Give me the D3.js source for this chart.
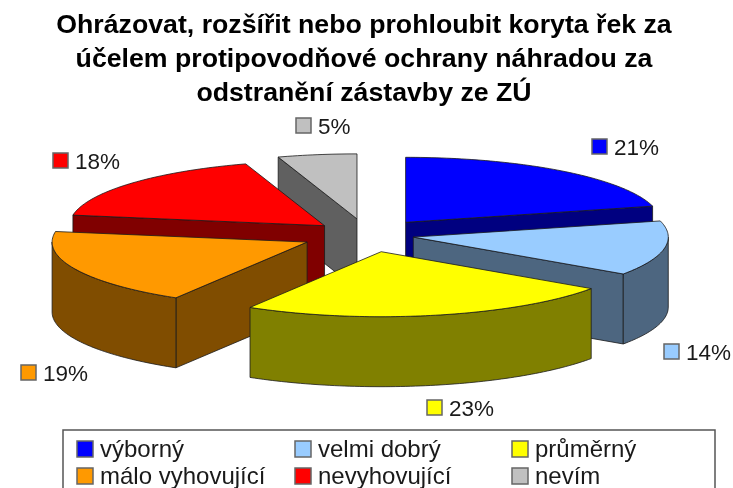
<!DOCTYPE html>
<html lang="cs">
<head>
<meta charset="UTF-8">
<title>Ohrázovat, rozšířit nebo prohloubit koryta řek</title>
<script src="https://cdnjs.cloudflare.com/ajax/libs/d3/7.8.5/d3.min.js"></script>
<style>
    html, body { margin: 0; padding: 0; background: #fff; }
    svg { display: block; font-family: "Liberation Sans", Arial, sans-serif; filter: blur(0.45px); }
    .title { font-size: 26.7px; font-weight: bold; fill: #000; text-anchor: middle; }
    .label { font-size: 22.5px; fill: #1a1a1a; }
    .legend-text { font-size: 24px; fill: #1a1a1a; }
    .swatch { stroke: #666; stroke-width: 1.5px; }
    .face { stroke: #1a1a1a; stroke-width: 0.8px; stroke-linejoin: round; }
</style>
</head>
<body>
<svg id="chart" width="733" height="488"></svg>
<script>
const categories = ["výborný", "velmi dobrý", "průměrný", "málo vyhovující", "nevyhovující", "nevím"];
// printed percentages
const percents = [21, 14, 23, 19, 18, 5];
// slice sizes as measured on the picture, they differ a bit from the printed labels
const shares = [21, 13.6, 24, 19, 17.4, 5];
const explosion = [63, 47, 67, 66, 56, 64];
const topColors = ["#0000ff", "#99ccff", "#ffff00", "#ff9900", "#ff0000", "#c0c0c0"];
const sideColors = ["#000080", "#4d6680", "#808000", "#804d00", "#800000", "#606060"];
const titleLines = [
    "Ohrázovat, rozšířit nebo prohloubit koryta řek za",
    "účelem protipovodňové ochrany náhradou za",
    "odstranění zástavby ze ZÚ"
];

const dims = {
    cx: 367, cy: 235, rx: 255, ry: 65, depth: 70,
    titleY: [33, 67, 101],
    // label swatch left / swatch bottom for each slice
    labels: [[592, 154], [664, 359], [427, 415], [21, 380], [53, 168], [296, 133]],
    labelSwatch: 15,
    legend: { x: 63, y: 430, width: 652, height: 70, cols: [77, 295, 512], rows: [457, 484], swatch: 16 }
};

const svg = d3.select("#chart");

const pie = d3.pie().sort(null).value(d => d);
const arcs = pie(shares).map((d, i) => ({ ...d, i }));

// clockwise from 12 o'clock, squashed to an ellipse
function project(a, r, ox, oy, z) {
    return [ox + r * dims.rx * Math.sin(a), oy - r * dims.ry * Math.cos(a) + (z || 0)];
}

function rimPoints(a0, a1, ox, oy, z) {
    const n = Math.max(2, Math.ceil((a1 - a0) / 0.02));
    return d3.range(n + 1).map(k => project(a0 + (a1 - a0) * k / n, 1, ox, oy, z));
}

const line = d3.line();

function drawSlice(d) {
    const mid = (d.startAngle + d.endAngle) / 2;
    const ox = dims.cx + explosion[d.i] * Math.sin(mid);
    const oy = dims.cy - explosion[d.i] * Math.cos(mid) * dims.ry / dims.rx;
    const g = svg.append("g");
    const side = sideColors[d.i];

    const wall = a => {
        const p = project(a, 1, ox, oy);
        const pts = [[ox, oy], p, [p[0], p[1] + dims.depth], [ox, oy + dims.depth]];
        g.append("path").attr("class", "face").attr("fill", side).attr("d", line(pts) + "Z");
    };

    // only the walls turned towards the viewer
    if (Math.sin(d.startAngle) < -0.001) wall(d.startAngle);
    if (Math.sin(d.endAngle) > 0.001) wall(d.endAngle);

    const from = Math.max(d.startAngle, Math.PI / 2);
    const to = Math.min(d.endAngle, 3 * Math.PI / 2);
    if (to > from) {
        const upper = rimPoints(from, to, ox, oy, 0);
        const lower = rimPoints(from, to, ox, oy, dims.depth).reverse();
        g.append("path").attr("class", "face").attr("fill", side)
            .attr("d", line(upper.concat(lower)) + "Z");
    }

    const top = [[ox, oy]].concat(rimPoints(d.startAngle, d.endAngle, ox, oy, 0));
    g.append("path").attr("class", "face").attr("fill", topColors[d.i]).attr("d", line(top) + "Z");
}

// back to front
[5, 4, 0, 1, 3, 2].forEach(i => drawSlice(arcs[i]));

svg.selectAll(".title").data(titleLines).join("text")
    .attr("class", "title")
    .attr("x", 364)
    .attr("y", (d, i) => dims.titleY[i])
    .text(d => d);

// data labels
const labels = svg.selectAll(".data-label").data(percents).join("g").attr("class", "data-label");
labels.append("rect")
    .attr("class", "swatch")
    .attr("x", (d, i) => dims.labels[i][0])
    .attr("y", (d, i) => dims.labels[i][1] - dims.labelSwatch)
    .attr("width", dims.labelSwatch).attr("height", dims.labelSwatch)
    .attr("fill", (d, i) => topColors[i]);
labels.append("text")
    .attr("class", "label")
    .attr("x", (d, i) => dims.labels[i][0] + 22)
    .attr("y", (d, i) => dims.labels[i][1] + 1)
    .text(d => d + "%");

// legend
const lg = dims.legend;
svg.append("rect")
    .attr("x", lg.x).attr("y", lg.y).attr("width", lg.width).attr("height", lg.height)
    .attr("fill", "#fff").attr("stroke", "#555").attr("stroke-width", 1.5);

const entries = svg.selectAll(".legend-entry").data(categories).join("g")
    .attr("class", "legend-entry")
    .attr("transform", (d, i) => `translate(${lg.cols[i % 3]},${lg.rows[Math.floor(i / 3)]})`);
entries.append("rect")
    .attr("class", "swatch")
    .attr("y", -lg.swatch).attr("width", lg.swatch).attr("height", lg.swatch)
    .attr("fill", (d, i) => topColors[i]);
entries.append("text")
    .attr("class", "legend-text")
    .attr("x", lg.swatch + 7)
    .attr("y", 0)
    .text(d => d);
</script>
</body>
</html>
